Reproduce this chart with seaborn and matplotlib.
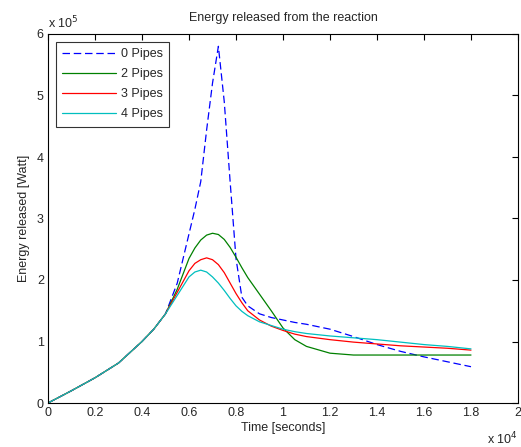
import numpy as np
import pandas as pd
import matplotlib
matplotlib.use("Agg")
import matplotlib.pyplot as plt
import seaborn as sns
from matplotlib.ticker import FuncFormatter, MultipleLocator

time_s = [0, 1000, 2000, 3000, 4000, 4500, 5000, 5500, 6000, 6250, 6500, 6750, 7000, 7250,
          7500, 7750, 8000, 8250, 8500, 9000, 9500, 10000, 10500, 11000, 12000, 13000, 14000,
          15000, 16000, 17000, 18000]
rise = [0, 0.2e5, 0.41e5, 0.65e5, 1.0e5, 1.2e5, 1.45e5]
pipes0 = rise + [1.95e5, 2.75e5, 3.15e5, 3.6e5, 4.44e5, 5.2e5, 5.8e5, 4.9e5, 3.6e5, 2.35e5,
                 1.72e5, 1.58e5, 1.45e5, 1.39e5, 1.35e5, 1.31e5, 1.28e5, 1.2e5, 1.08e5, 0.95e5,
                 0.84e5, 0.75e5, 0.67e5, 0.59e5]
pipes2 = rise + [1.85e5, 2.35e5, 2.52e5, 2.65e5, 2.73e5, 2.76e5, 2.74e5, 2.66e5, 2.53e5, 2.37e5,
                 2.2e5, 2.04e5, 1.77e5, 1.5e5, 1.22e5, 1.03e5, 0.92e5, 0.81e5, 0.78e5, 0.78e5,
                 0.78e5, 0.78e5, 0.78e5, 0.78e5]
pipes3 = rise + [1.8e5, 2.15e5, 2.27e5, 2.33e5, 2.36e5, 2.33e5, 2.25e5, 2.12e5, 1.95e5, 1.78e5,
                 1.63e5, 1.5e5, 1.35e5, 1.25e5, 1.18e5, 1.12e5, 1.08e5, 1.03e5, 0.99e5, 0.96e5,
                 0.93e5, 0.91e5, 0.89e5, 0.86e5]
pipes4 = rise + [1.75e5, 2.05e5, 2.13e5, 2.16e5, 2.13e5, 2.05e5, 1.95e5, 1.83e5, 1.7e5, 1.58e5,
                 1.49e5, 1.42e5, 1.32e5, 1.26e5, 1.2e5, 1.16e5, 1.13e5, 1.09e5, 1.06e5, 1.03e5,
                 0.99e5, 0.95e5, 0.92e5, 0.88e5]
labels = ["0 Pipes", "2 Pipes", "3 Pipes", "4 Pipes"]
series = [pipes0, pipes2, pipes3, pipes4]

df = pd.concat([pd.DataFrame({"t": time_s, "E": s, "case": lab})
                for lab, s in zip(labels, series)], ignore_index=True)

sns.set_style("white")
plt.rcParams["font.family"] = ["Liberation Sans", "DejaVu Sans"]
fig = plt.figure(figsize=(5.21, 4.47), dpi=100)
ax = fig.add_axes([48/521, 44/447, 470/521, 369/447])

palette = {"0 Pipes": (0, 0, 1), "2 Pipes": (0, 0.5, 0), "3 Pipes": (1, 0, 0), "4 Pipes": (0, 0.75, 0.75)}
dashes = {"0 Pipes": (6, 3), "2 Pipes": "", "3 Pipes": "", "4 Pipes": ""}
sns.lineplot(data=df, x="t", y="E", hue="case", style="case", palette=palette,
             dashes=dashes, linewidth=0.9, ax=ax, sort=False)

ax.set_xlim(0, 20000)
ax.set_ylim(0, 6e5)
ax.xaxis.set_major_locator(MultipleLocator(2000))
ax.yaxis.set_major_locator(MultipleLocator(1e5))
ax.xaxis.set_major_formatter(FuncFormatter(lambda v, p: f"{v/1e4:g}"))
ax.yaxis.set_major_formatter(FuncFormatter(lambda v, p: f"{v/1e5:g}"))
ax.tick_params(direction="in", length=4.5, width=0.8, top=True, right=True,
               labelsize=9, pad=3, color="black")
for sp in ax.spines.values():
    sp.set_color("black")
    sp.set_linewidth(0.8)

ax.set_xlabel("Time [seconds]", fontsize=9, labelpad=2)
ax.set_ylabel("Energy released [Watt]", fontsize=9, labelpad=5)
ax.set_title("Energy released from the reaction", fontsize=9, pad=9)
ax.text(0.0, 1.008, r"x 10$^5$", transform=ax.transAxes, fontsize=9, ha="left", va="bottom")
ax.text(1.0, -0.075, r"x 10$^4$", transform=ax.transAxes, fontsize=9, ha="right", va="top")

leg = ax.legend(loc="upper left", fontsize=9, frameon=True, fancybox=False,
                edgecolor="black", handlelength=4.3, handletextpad=0.4, borderpad=0.5,
                labelspacing=0.64, bbox_to_anchor=(0.003, 0.995))
leg.get_frame().set_linewidth(0.8)
leg.set_title(None)

fig.savefig("out.png", dpi=100, facecolor="white")
